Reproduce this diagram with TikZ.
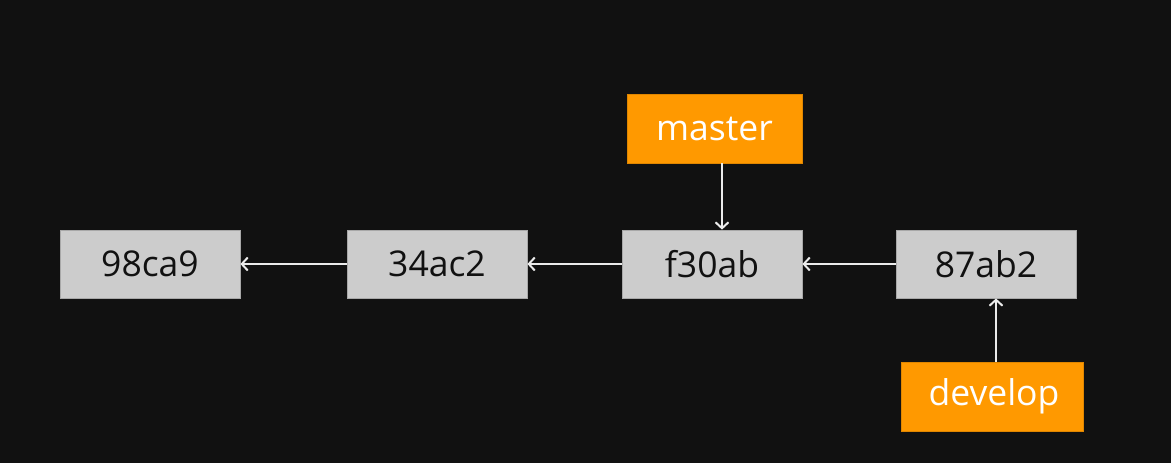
\documentclass[tikz,border=0pt]{standalone}
\usepackage{fontspec}
\setmainfont{Open Sans}
\usetikzlibrary{arrows.meta}
\definecolor{bg}{HTML}{111111}
\definecolor{boxgray}{HTML}{CCCCCC}
\definecolor{boxedge}{HTML}{A8A8A8}
\definecolor{orng}{HTML}{FF9900}
\definecolor{orngedge}{HTML}{E08600}
\definecolor{txt}{HTML}{111111}
\tikzset{
  commit/.style={rectangle, fill=boxgray, draw=boxedge, line width=0.8pt, minimum width=180pt, minimum height=68pt, inner sep=0pt, text=txt, font=\fontsize{35.5}{40}\selectfont},
  branch/.style={rectangle, fill=orng, draw=orngedge, line width=0.8pt, minimum height=69pt, inner sep=0pt, text=white, font=\fontsize{35.5}{40}\selectfont},
  link/.style={draw=white!92!black, line width=2pt, -{Straight Barb[length=6pt,width=13pt,line width=2pt]}}
}
\begin{document}
\begin{tikzpicture}[x=1pt,y=-1pt]
\fill[bg] (0,0) rectangle (1171,463);
\useasboundingbox (0,0) rectangle (1171,463);
\node[commit] (c1) at (150,264) {98ca9};
\node[commit] (c2) at (437,264) {34ac2};
\node[commit] (c3) at (712,264) {f30ab};
\node[commit] (c4) at (986,264) {87ab2};
\node[branch, minimum width=175pt] (m) at (714.5,128.5) {master};
\node[branch, minimum width=182pt] (d) at (992,396.5) {\hspace*{4pt}develop};
\draw[link] (c2.west) -- (c1.east);
\draw[link] (c3.west) -- (c2.east);
\draw[link] (c4.west) -- (c3.east);
\draw[link] (m.south -| 722,0) -- (c3.north -| 722,0);
\draw[link] (d.north -| 996,0) -- (c4.south -| 996,0);
\end{tikzpicture}
\end{document}
